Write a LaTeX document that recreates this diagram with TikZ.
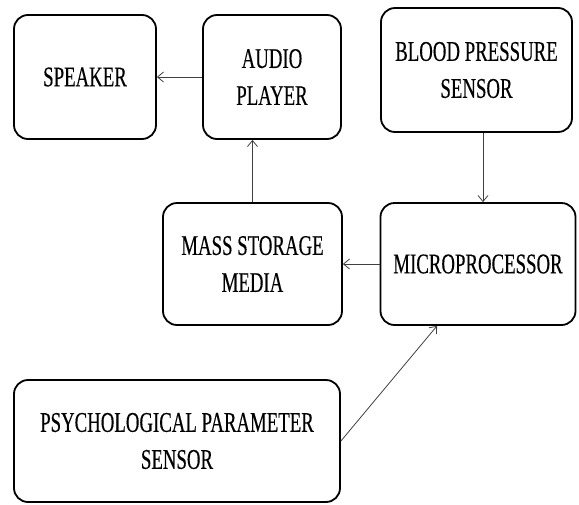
\documentclass[tikz,border=0pt]{standalone}
\usepackage{fontspec}
\setmainfont{Liberation Serif}[FakeStretch=0.66,FakeBold=0.3]
\usetikzlibrary{arrows.meta}
\begin{document}
\begin{tikzpicture}[x=1pt,y=-1pt,
  blk/.style={draw=black, line width=1.8pt, rounded corners=14pt, inner sep=0pt,
    align=center, font=\fontsize{28.5}{37}\selectfont},
  arr/.style={draw=black!75, line width=0.8pt, -{Straight Barb[length=6pt,width=10pt,line width=0.8pt]}}]
\useasboundingbox (0,0) rectangle (579,504);
\node[blk, minimum width=142pt, minimum height=124pt] (speaker) at (85,77) {SPEAKER};
\node[blk, minimum width=138pt, minimum height=124pt] (audio) at (272,77) {AUDIO\\PLAYER};
\node[blk, minimum width=191pt, minimum height=124pt] (bp) at (476.5,70) {BLOOD PRESSURE\\SENSOR};
\node[blk, minimum width=179pt, minimum height=122pt] (mass) at (252.5,264) {MASS STORAGE\\MEDIA};
\node[blk, minimum width=195pt, minimum height=122pt] (micro) at (478,264) {MICROPROCESSOR};
\node[blk, minimum width=326pt, minimum height=122pt] (psych) at (177,441) {PSYCHOLOGICAL PARAMETER\\SENSOR};
\draw[arr] (audio.west) -- (speaker.east);
\draw[arr] (mass.north) -- (mass.north |- audio.south);
\draw[arr] ([xshift=6.5pt]bp.south) -- ([xshift=6.5pt]bp.south |- micro.north);
\draw[arr] (micro.west) -- (mass.east);
\draw[arr] (psych.east) -- ([xshift=-41pt]micro.south);
\end{tikzpicture}
\end{document}
